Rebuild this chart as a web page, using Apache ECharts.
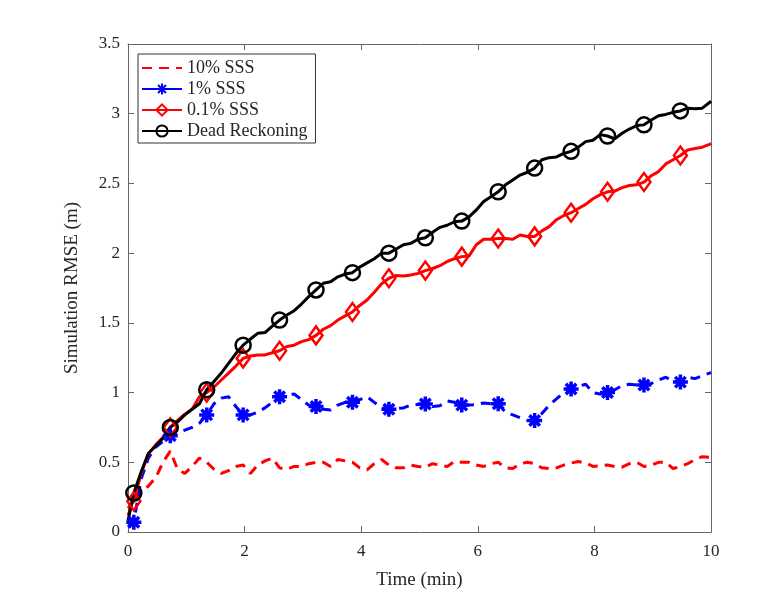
<!DOCTYPE html>
<html>
<head>
<meta charset="utf-8">
<script src="https://cdn.jsdelivr.net/npm/echarts@6/dist/echarts.min.js"></script>
<style>
  html, body { margin: 0; padding: 0; background: #fff; }
  #chart { width: 775px; height: 604px; }
</style>
</head>
<body>
<div id="chart"></div>
<script>
// sample times (min); markers sit on every 5th sample starting at index 1
const TIME = [0, 0.1, 0.225, 0.35, 0.475, 0.6, 0.725, 0.85, 0.975, 1.1, 1.225, 1.35, 1.475, 1.6, 1.725, 1.85,
  1.975, 2.1, 2.225, 2.35, 2.475, 2.6, 2.725, 2.85, 2.975, 3.1, 3.225, 3.35, 3.475, 3.6, 3.725, 3.85,
  3.975, 4.1, 4.225, 4.35, 4.475, 4.6, 4.725, 4.85, 4.975, 5.1, 5.225, 5.35, 5.475, 5.6, 5.725, 5.85,
  5.975, 6.1, 6.225, 6.35, 6.475, 6.6, 6.725, 6.85, 6.975, 7.1, 7.225, 7.35, 7.475, 7.6, 7.725, 7.85,
  7.975, 8.1, 8.225, 8.35, 8.475, 8.6, 8.725, 8.85, 8.975, 9.1, 9.225, 9.35, 9.475, 9.6, 9.725, 9.85,
  9.975, 10]
const MARKER_IDX = [1, 6, 11, 16, 21, 26, 31, 36, 41, 46, 51, 56, 61, 66, 71, 76]

const SSS_10 = [0.12, 0.22, 0.29, 0.33, 0.39, 0.50, 0.58, 0.45, 0.42, 0.47, 0.53, 0.50, 0.45, 0.42, 0.44, 0.47,
  0.48, 0.42, 0.48, 0.51, 0.53, 0.46, 0.45, 0.47, 0.47, 0.49, 0.50, 0.50, 0.47, 0.52, 0.51, 0.50,
  0.46, 0.445, 0.49, 0.52, 0.48, 0.46, 0.46, 0.48, 0.47, 0.465, 0.49, 0.48, 0.47, 0.505, 0.50, 0.50,
  0.48, 0.47, 0.49, 0.50, 0.46, 0.455, 0.49, 0.50, 0.49, 0.46, 0.455, 0.46, 0.48, 0.495, 0.505, 0.495,
  0.47, 0.475, 0.48, 0.47, 0.465, 0.49, 0.50, 0.47, 0.48, 0.50, 0.50, 0.455, 0.47, 0.49, 0.52, 0.54,
  0.535, 0.54]

const SSS_1 = [0.04, 0.07, 0.38, 0.53, 0.61, 0.65, 0.69, 0.71, 0.73, 0.75, 0.78, 0.84, 0.92, 0.96, 0.97, 0.90,
  0.84, 0.84, 0.86, 0.89, 0.93, 0.97, 0.98, 0.99, 0.95, 0.91, 0.90, 0.88, 0.875, 0.91, 0.93, 0.93,
  0.95, 0.97, 0.93, 0.89, 0.88, 0.885, 0.89, 0.91, 0.915, 0.918, 0.90, 0.905, 0.94, 0.93, 0.91, 0.91,
  0.915, 0.925, 0.92, 0.92, 0.86, 0.84, 0.82, 0.80, 0.80, 0.85, 0.91, 0.955, 1.0, 1.025, 1.045, 1.06,
  1.0, 0.99, 1.0, 1.02, 1.05, 1.06, 1.055, 1.055, 1.065, 1.09, 1.11, 1.08, 1.075, 1.11, 1.10, 1.12,
  1.14, 1.145]

const SSS_01 = [0.17, 0.22, 0.42, 0.56, 0.625, 0.68, 0.75, 0.80, 0.845, 0.88, 0.97, 1.0, 1.04, 1.09, 1.14, 1.19,
  1.245, 1.262, 1.27, 1.27, 1.286, 1.30, 1.33, 1.34, 1.365, 1.38, 1.41, 1.454, 1.48, 1.52, 1.55, 1.578,
  1.625, 1.664, 1.72, 1.78, 1.82, 1.84, 1.836, 1.843, 1.855, 1.875, 1.89, 1.91, 1.94, 1.96, 1.975, 1.98,
  2.06, 2.10, 2.10, 2.105, 2.105, 2.10, 2.13, 2.12, 2.12, 2.16, 2.19, 2.24, 2.27, 2.29, 2.32, 2.35,
  2.39, 2.42, 2.44, 2.445, 2.47, 2.485, 2.49, 2.51, 2.555, 2.585, 2.64, 2.67, 2.70, 2.74, 2.75, 2.76,
  2.78, 2.785]

const DEAD_RECKONING = [0.08, 0.28, 0.43, 0.565, 0.617, 0.672, 0.75, 0.79, 0.84, 0.88, 0.92, 1.02, 1.08, 1.14, 1.21, 1.28,
  1.34, 1.384, 1.425, 1.43, 1.477, 1.52, 1.556, 1.587, 1.635, 1.688, 1.736, 1.784, 1.795, 1.83, 1.85, 1.86,
  1.90, 1.93, 1.96, 2.0, 2.0, 2.03, 2.06, 2.07, 2.10, 2.11, 2.15, 2.185, 2.20, 2.225, 2.23, 2.26,
  2.31, 2.37, 2.405, 2.44, 2.49, 2.525, 2.56, 2.58, 2.61, 2.67, 2.685, 2.69, 2.715, 2.73, 2.76, 2.80,
  2.81, 2.85, 2.84, 2.82, 2.86, 2.89, 2.915, 2.92, 2.955, 2.985, 2.995, 3.01, 3.02, 3.04, 3.035, 3.04,
  3.08, 3.09]

const X_TICKS = { min: 0, max: 10, interval: 2 }
const Y_TICKS = { min: 0, max: 3.5, interval: 0.5 }

const FONT = "'Liberation Serif', 'DejaVu Serif', serif"
const AXIS_COLOR = '#666'
const TEXT_COLOR = '#262626'

function withMarkers(values, useMarkers) {
  return values.map((v, i) => {
    const item = { value: [TIME[i], v] }
    if (!useMarkers || !MARKER_IDX.includes(i)) item.symbol = 'none'
    return item
  })
}

const ASTERISK = 'path://M10,0 L10,20 M0,10 L20,10 M3,3 L17,17 M3,17 L17,3'
const HIDDEN = { color: 'rgba(0,0,0,0)', borderColor: 'rgba(0,0,0,0)', borderWidth: 0 }

const baseAxis = {
  axisLine: { show: true, onZero: false, lineStyle: { color: AXIS_COLOR, width: 1 } },
  axisTick: { show: true, inside: true, length: 6, lineStyle: { color: AXIS_COLOR } },
  splitLine: { show: false },
}

const chart = echarts.init(document.getElementById('chart'), null, { renderer: 'canvas' })

chart.setOption({
  animation: false,
  backgroundColor: '#fff',
  grid: { left: 128, right: 64, top: 44, bottom: 72, containLabel: false },
  legend: {
    left: 138,
    top: 54,
    orient: 'vertical',
    backgroundColor: '#fff',
    borderColor: '#333',
    borderWidth: 1,
    borderRadius: 0,
    padding: [5, 8, 3, 3],
    itemGap: 3,
    itemWidth: 40,
    itemHeight: 14,
    textStyle: { fontFamily: FONT, fontSize: 18, color: TEXT_COLOR },
    data: [
      { name: '10% SSS', itemStyle: HIDDEN },
      { name: '1% SSS', lineStyle: { type: 'solid' } },
      '0.1% SSS',
      'Dead Reckoning',
    ],
  },
  xAxis: [
    {
      ...baseAxis,
      type: 'value',
      ...X_TICKS,
      name: 'Time (min)',
      nameLocation: 'middle',
      nameGap: 39,
      nameTextStyle: { fontFamily: FONT, fontSize: 19, color: TEXT_COLOR },
      axisLabel: { fontFamily: FONT, fontSize: 17, color: TEXT_COLOR, margin: 11 },
    },
    {
      ...baseAxis,
      type: 'value',
      position: 'top',
      ...X_TICKS,
      axisLabel: { show: false },
    },
  ],
  yAxis: [
    {
      ...baseAxis,
      type: 'value',
      ...Y_TICKS,
      name: 'Simulation RMSE (m)',
      nameLocation: 'middle',
      nameGap: 46,
      nameTextStyle: { fontFamily: FONT, fontSize: 19, color: TEXT_COLOR },
      axisLabel: { fontFamily: FONT, fontSize: 17, color: TEXT_COLOR, margin: 8 },
    },
    {
      ...baseAxis,
      type: 'value',
      position: 'right',
      ...Y_TICKS,
      axisLabel: { show: false },
    },
  ],
  series: [
    {
      name: '10% SSS',
      type: 'line',
      symbol: 'none',
      data: withMarkers(SSS_10, false),
      lineStyle: { color: '#ff0000', width: 3, type: [10, 7] },
      itemStyle: { color: '#ff0000' },
    },
    {
      name: '1% SSS',
      type: 'line',
      symbol: ASTERISK,
      symbolSize: 15,
      showAllSymbol: true,
      data: withMarkers(SSS_1, true),
      lineStyle: { color: '#0000ff', width: 3, type: [10, 7] },
      itemStyle: { color: '#0000ff', borderColor: '#0000ff', borderWidth: 3.5 },
    },
    {
      name: '0.1% SSS',
      type: 'line',
      symbol: 'diamond',
      symbolSize: [13, 18],
      showAllSymbol: true,
      data: withMarkers(SSS_01, true),
      lineStyle: { color: '#ff0000', width: 3 },
      itemStyle: { color: 'rgba(0,0,0,0)', borderColor: '#ff0000', borderWidth: 2.5 },
    },
    {
      name: 'Dead Reckoning',
      type: 'line',
      symbol: 'circle',
      symbolSize: 15,
      showAllSymbol: true,
      data: withMarkers(DEAD_RECKONING, true),
      lineStyle: { color: '#000', width: 3 },
      itemStyle: { color: 'rgba(0,0,0,0)', borderColor: '#000', borderWidth: 2.5 },
    },
  ],
})
</script>
</body>
</html>
